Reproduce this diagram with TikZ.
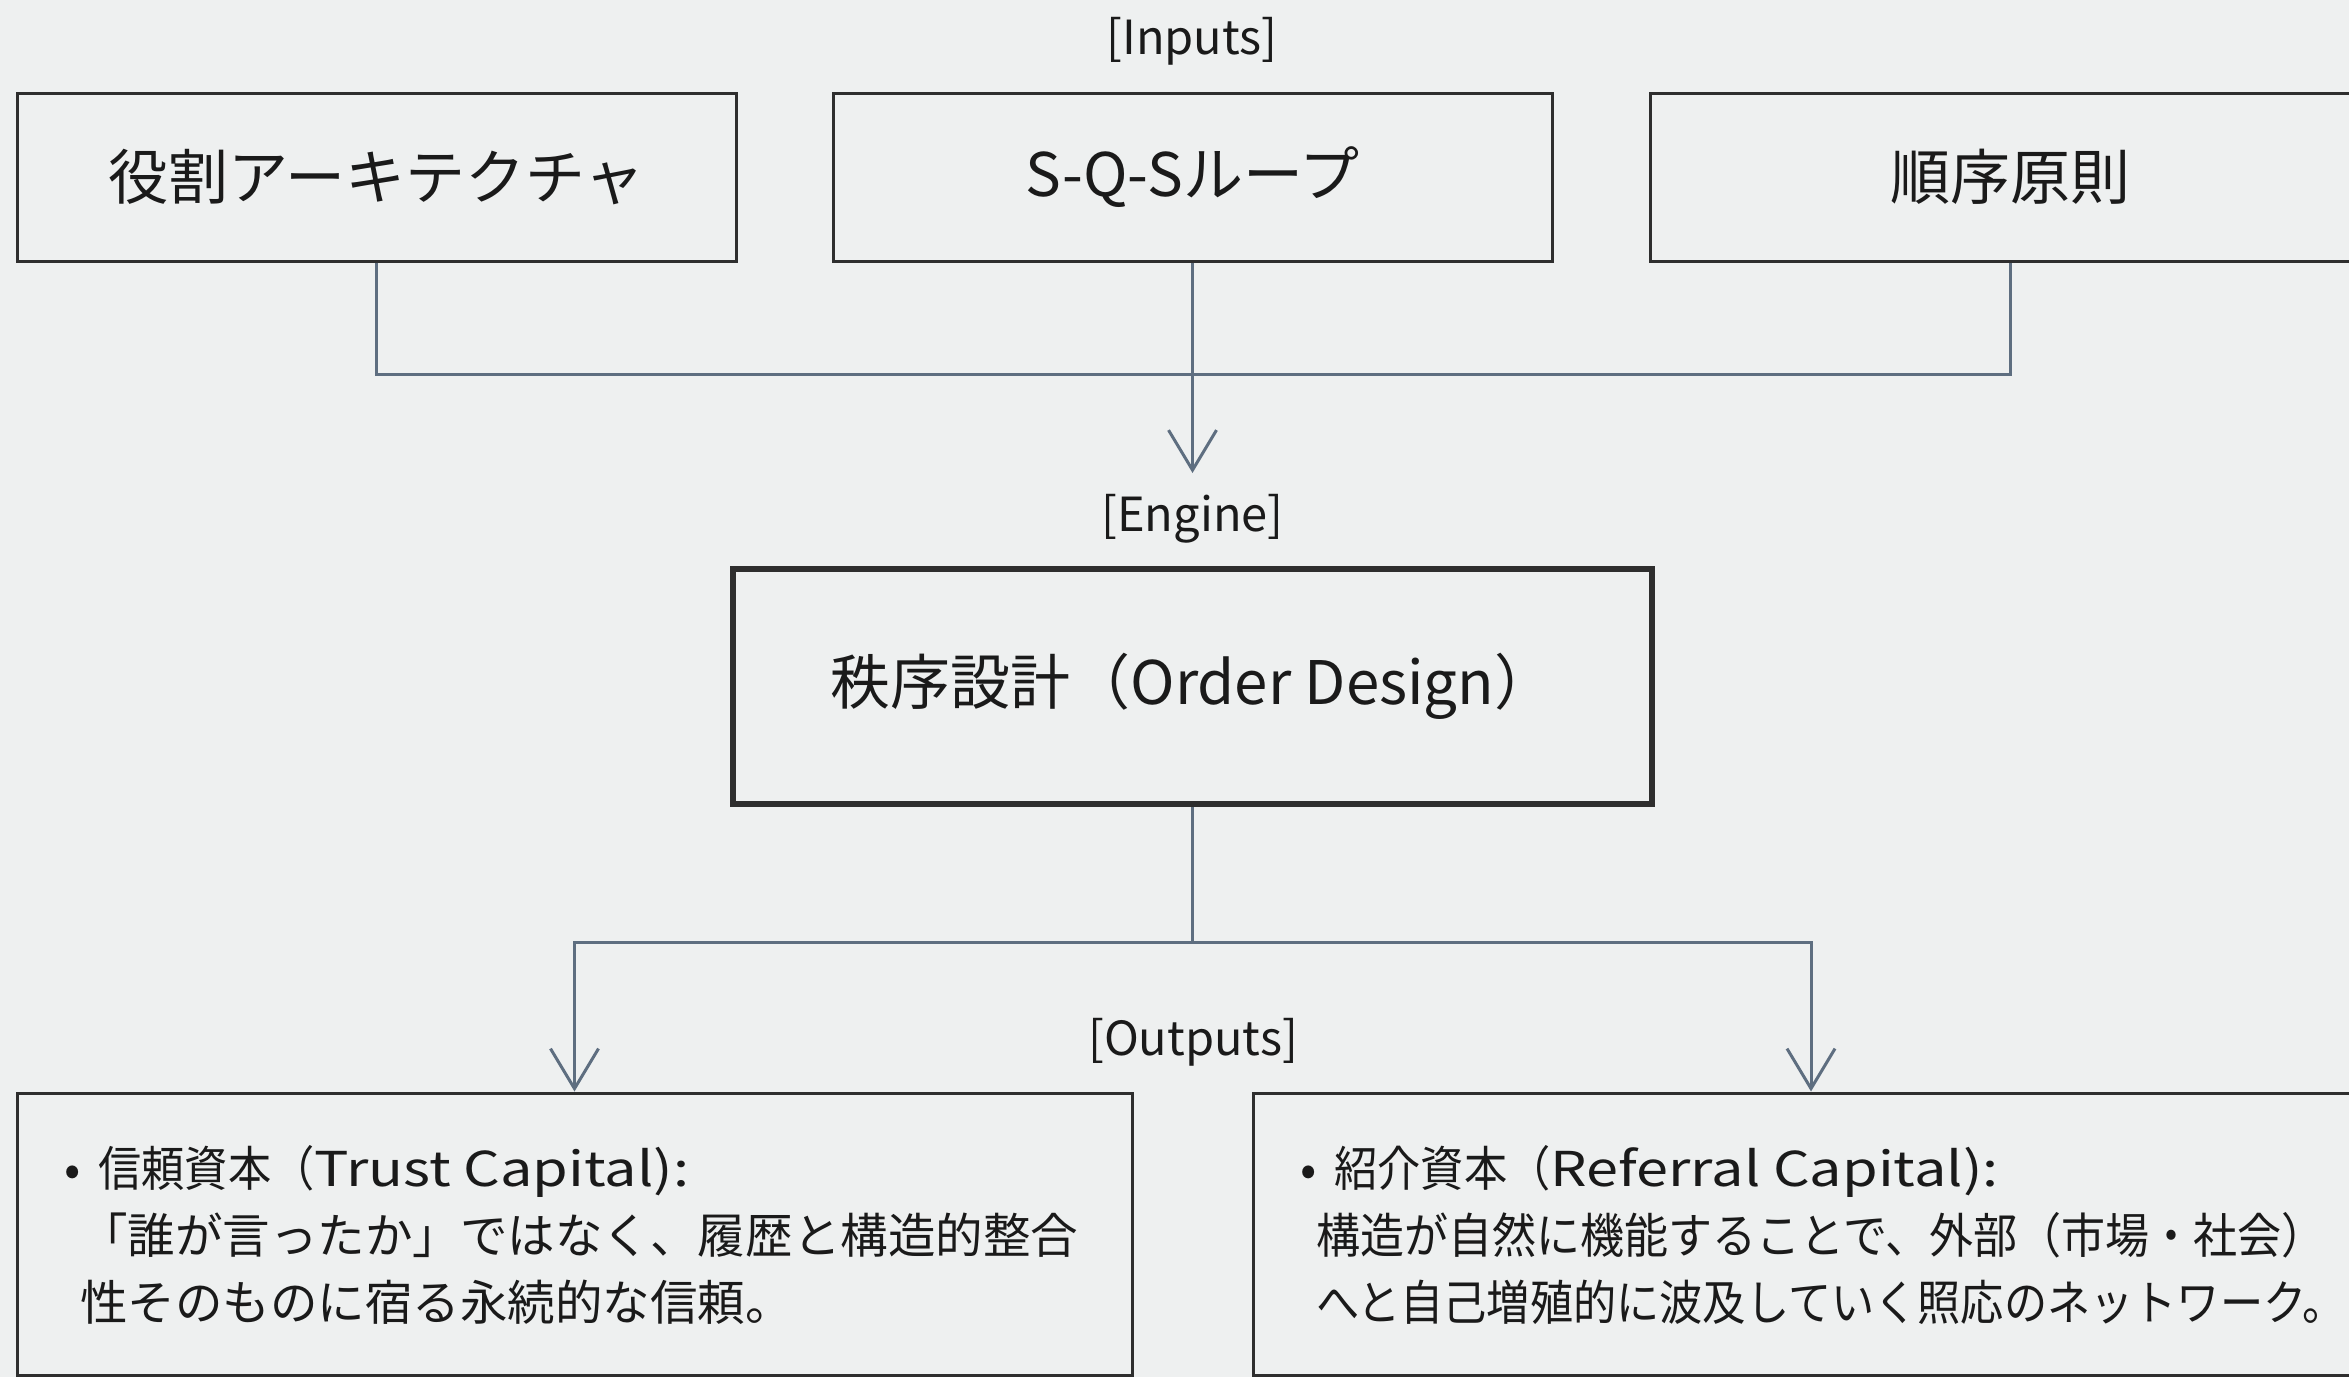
\documentclass[tikz,border=0pt]{standalone}
\usepackage{fontspec}
\usepackage{graphicx}
\setmainfont{Noto Sans CJK JP}
\usetikzlibrary{arrows.meta}
\definecolor{bgc}{HTML}{EEF0F0}
\definecolor{conn}{HTML}{5E6E80}
\definecolor{bord}{HTML}{2E2E2E}
\definecolor{txt}{HTML}{1A1A1A}
\newcommand\hsq[2]{\scalebox{#1}[1]{#2}}
\tikzset{
  inbox/.style={draw=bord, line width=3pt, minimum width=719pt, minimum height=168pt, inner sep=0pt, text=txt, font=\fontsize{60}{72}\selectfont},
  engbox/.style={draw=bord, line width=6pt, minimum width=919pt, minimum height=235pt, inner sep=0pt, text=txt, font=\fontsize{60}{72}\selectfont},
  outbox/.style={draw=bord, line width=3pt, minimum width=1115pt, minimum height=282pt, inner sep=0pt},
  lbl/.style={text=txt, inner sep=0pt, font=\fontsize{47}{58}\selectfont},
  body/.style={text=txt, inner sep=0pt, align=left, font=\fontsize{48}{67}\selectfont},
  conline/.style={draw=conn, line width=3pt},
  arr/.style={conline, -{Straight Barb[length=40pt,width=48pt,line width=3pt]}},
}
\begin{document}
\begin{tikzpicture}[x=1pt,y=-1pt]
\fill[bgc] (0,0) rectangle (2349,1377);
\useasboundingbox (0,0) rectangle (2349,1377);
\clip (0,0) rectangle (2349,1377);
\node[lbl] (linp) at (1192,41) {[Inputs]};
\node[inbox] (b1) at (376.5,177) {役割アーキテクチャ};
\node[inbox] (b2) at (1192.5,177) {S-Q-Sループ};
\node[inbox] (b3) at (2010,177) {順序原則};
\coordinate (jn) at (1192.5,374);
\coordinate (in1) at (1192.5,473);
\draw[conline] (b1.south) |- (jn) -| (b3.south);
\draw[arr] (b2.south) -- (in1);
\node[lbl] (leng) at (1192.5,519) {[Engine]};
\node[engbox] (eng) at (1192.5,686.5) {秩序設計（Order Design）};
\coordinate (sp) at (1192.5,942);
\node[lbl] (lout) at (1193,1042) {[Outputs]};
\node[outbox] (o1) at (574.5,1234) {};
\node[outbox] (o2) at (1811,1234) {};
\draw[conline] (eng.south) -- (sp);
\draw[arr] (sp) -| (o1.north);
\draw[arr] (sp) -| (o2.north);
\node[body, anchor=base west] (t1) at (64,1320) {•\hspace{18pt}\hsq{0.9}{信頼資本（}\hsq{1.2}{Trust Capital):}\\\hspace{16pt}\hsq{0.99}{「誰が言ったか」ではなく、履歴と構造的整合}\\\hspace{16pt}\hsq{0.99}{性そのものに宿る永続的な信頼。}};
\node[body, anchor=base west] (t2) at (1300,1320) {•\hspace{18pt}\hsq{0.9}{紹介資本（}\hsq{1.2}{Referral Capital):}\\\hspace{16pt}\hsq{0.917}{構造が自然に機能することで、外部（市場・社会）}\\\hspace{16pt}\hsq{0.9}{へと自己増殖的に波及していく照応のネットワーク。}};
\end{tikzpicture}
\end{document}
